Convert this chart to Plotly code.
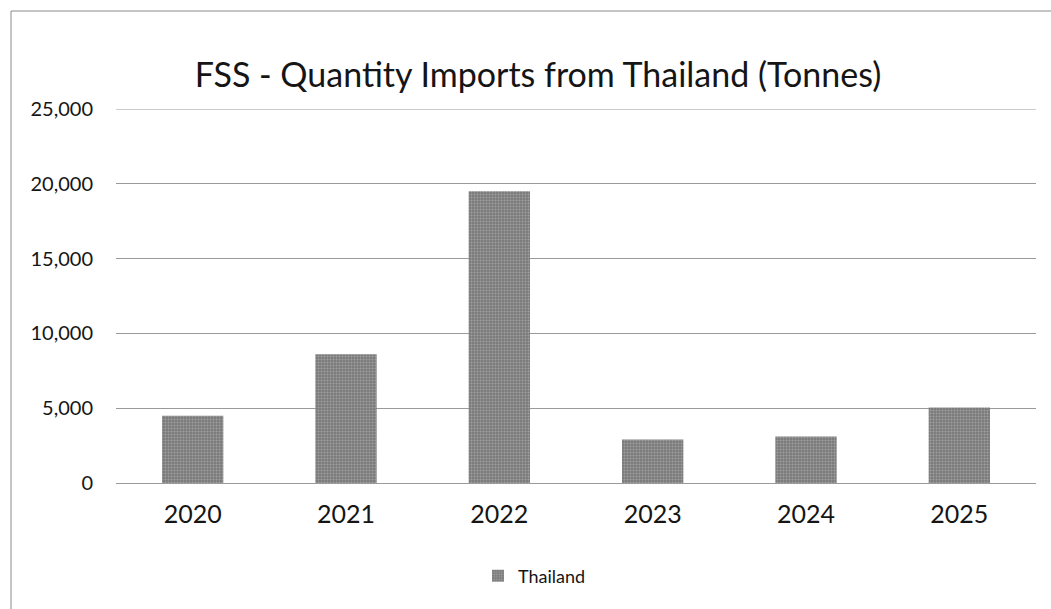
import plotly.graph_objects as go

# Annual FSS import quantities from Thailand, in tonnes
years = ["2020", "2021", "2022", "2023", "2024", "2025"]
tonnes = [4500, 8600, 19500, 2900, 3100, 5050]
y_ticks = [0, 5000, 10000, 15000, 20000, 25000]
y_tick_labels = ["0", "5,000", "10,000", "15,000", "20,000", "25,000"]
series_name = "Thailand"

W, H = 1051, 609
M_L, M_R, M_T, M_B = 116, 15, 109, 126
plot_w = W - M_L - M_R
plot_h = H - M_T - M_B

FONT = "Lato, 'Open Sans', sans-serif"
INK = "#151515"
GRID = "#9a9a9a"

fig = go.Figure()
fig.add_trace(go.Bar(
    x=years,
    y=tonnes,
    name=series_name,
    marker=dict(
        color="#8a8a8a",
        line=dict(width=0),
        pattern=dict(shape=".", fgcolor="#c8c8c8", bgcolor="#7a7a7a",
                     size=3, solidity=0.35),
    ),
    showlegend=True,
))


def px_x(px):
    return (px - M_L) / plot_w


def px_y(py):
    return 1 - (py - M_T) / plot_h


# outer chart frame (top and left edges visible)
frame = dict(color="#8a8a8a", width=1)
fig.add_shape(type="line", xref="paper", yref="paper",
              x0=px_x(11), x1=px_x(W + 5), y0=px_y(11), y1=px_y(11), line=frame)
fig.add_shape(type="line", xref="paper", yref="paper",
              x0=px_x(11), x1=px_x(11), y0=px_y(11), y1=px_y(H + 5), line=frame)

# gridline on the top edge of the value axis
fig.add_shape(type="line", xref="paper", yref="y",
              x0=0, x1=1, y0=y_ticks[-1], y1=y_ticks[-1],
              line=dict(color=GRID, width=1), layer="below")

fig.update_layout(
    width=W,
    height=H,
    margin=dict(l=M_L, r=M_R, t=M_T, b=M_B, autoexpand=False),
    paper_bgcolor="white",
    plot_bgcolor="white",
    bargap=0.6,
    font=dict(family=FONT, color=INK),
    title=dict(
        text="FSS - Quantity Imports from Thailand (Tonnes)",
        font=dict(family=FONT, size=34, color=INK),
        xref="container", yref="container",
        x=538 / W, xanchor="center",
        y=1 - 75 / H, yanchor="middle",
    ),
    xaxis=dict(
        showgrid=False,
        showline=False,
        ticks="",
        tickfont=dict(size=25, color=INK),
        ticklabelstandoff=14,
    ),
    yaxis=dict(
        range=[0, y_ticks[-1]],
        tickvals=y_ticks,
        ticktext=y_tick_labels,
        showgrid=True,
        gridcolor=GRID,
        gridwidth=1,
        zeroline=True,
        zerolinecolor=GRID,
        zerolinewidth=1,
        showline=False,
        ticks="",
        tickfont=dict(size=20, color=INK),
        ticklabelstandoff=22,
    ),
    legend=dict(
        orientation="h",
        xref="container", yref="container",
        x=478 / W, xanchor="left",
        y=1 - 576 / H, yanchor="middle",
        font=dict(size=18, color=INK),
        bgcolor="rgba(0,0,0,0)",
    ),
)

fig.write_html("out.html")
